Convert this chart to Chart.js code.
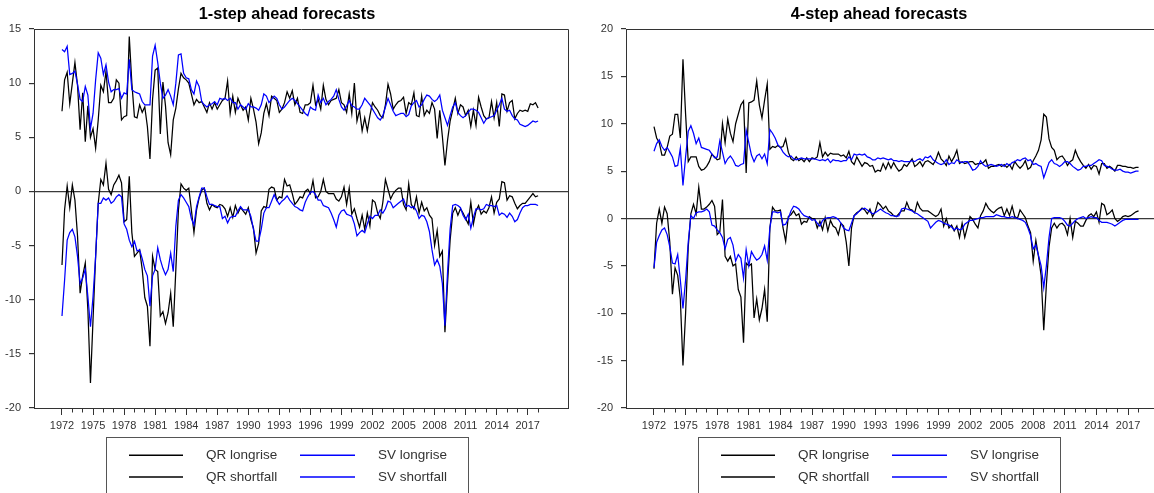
<!DOCTYPE html>
<html>
<head>
<meta charset="utf-8">
<script src="https://cdn.jsdelivr.net/npm/chart.js@4.4.1/dist/chart.umd.min.js"></script>
<style>
  html, body { margin: 0; padding: 0; background: #ffffff; overflow: hidden; width: 1154px; height: 493px; }
  #oneStep { position: absolute; left: 0; top: 0; }
  #fourStep { position: absolute; left: 592px; top: 0; }
</style>
</head>
<body>
<canvas id="oneStep" width="592" height="493"></canvas>
<canvas id="fourStep" width="601" height="493"></canvas>
<script>
// Quarterly forecasts, 1972Q1 .. 2018Q1
const startYear = 1972;
const labelYears = [1972, 1975, 1978, 1981, 1984, 1987, 1990, 1993, 1996, 1999, 2002, 2005, 2008, 2011, 2014, 2017];
const firstTickYear = 1972;
const lastTickYear = 2018;
const seriesNames = ['QR longrise', 'QR shortfall', 'SV longrise', 'SV shortfall'];
const seriesColors = ['#000000', '#000000', '#0000ff', '#0000ff'];
const panelTitles = ['1-step ahead forecasts', '4-step ahead forecasts'];

// ---- 1-step ahead ----
const oneStepQRLongrise = [
  7.4, 10.3, 11.0, 8.1,   10.0, 11.9, 9.8, 5.7,   9.1, 4.6, 7.9, 5.0,   5.8, 4.0, 6.6, 9.8,
  9.2, 11.1, 8.2, 8.2,    8.6, 10.3, 10.0, 6.6,   6.9, 7.0, 14.3, 10.0, 6.9, 6.8, 8.0, 7.3,
  7.8, 6.0, 3.0, 8.5,     11.2, 11.4, 5.3, 10.1,  7.9, 4.5, 3.4, 6.6,   7.7, 9.5, 10.9, 10.5,
  10.3, 10.0, 9.0, 8.0,   8.5, 8.2, 8.3, 7.8,     7.3, 8.2, 7.6, 8.2,   7.6, 8.0, 8.4, 8.6,
  10.2, 7.2, 8.8, 7.3,    8.6, 8.0, 7.5, 7.8,     6.6, 8.6, 7.6, 6.4,   4.4, 5.4, 7.2, 8.1,
  7.0, 8.8, 8.6, 8.4,     7.3, 7.6, 8.2, 9.2,     8.6, 9.3, 8.0, 8.6,   7.3, 7.2, 8.0, 8.0,
  8.2, 9.8, 8.0, 8.5,     7.6, 9.8, 8.5, 8.0,     8.4, 8.5, 8.6, 9.4,   8.2, 8.0, 7.3, 9.0,
  7.2, 10.0, 6.5, 7.5,    5.6, 6.8, 5.6, 7.0,     8.2, 7.8, 7.5, 7.0,   6.8, 8.0, 9.9, 9.0,
  7.6, 8.0, 8.3, 8.4,     8.7, 7.2, 8.2, 8.0,     9.1, 7.0, 6.9, 8.8,   7.0, 7.5, 7.2, 8.2,
  7.6, 4.9, 7.5, 5.1,     2.4, 4.7, 6.5, 7.5,     8.6, 7.2, 8.0, 7.8,   7.0, 7.5, 6.0, 7.5,
  6.1, 8.7, 7.8, 7.0,     6.7, 6.8, 8.3, 6.8,     8.2, 6.0, 9.0, 8.9,   7.4, 8.2, 8.4, 6.7,
  7.2, 7.5, 7.4, 7.5,     7.4, 8.1, 8.0, 8.2,     7.7
];
const oneStepQRShortfall = [
  -6.8, -1.7, 0.5, -1.5,   0.6, -0.8, -4.1, -9.4,   -7.8, -6.6, -10.9, -17.7, -11.8, -6.0, -1.1, 1.1,
  0.6, 2.6, 0.2, -0.3,     0.6, 1.0, 1.5, 0.8,      -2.8, -2.6, 1.4, -3.8,    -6.0, -5.7, -5.4, -7.2,
  -9.8, -10.6, -14.3, -6.0, -7.2, -7.4, -11.5, -11.1, -12.2, -11.2, -9.4, -12.5, -7.2, -1.7, 0.7, 0.3,
  0.1, 0.3, -1.7, -3.8,    -1.7, -0.6, 0.1, 0.3,    -1.1, -1.7, -1.2, -1.4,   -1.5, -1.2, -1.3, -1.6,
  -2.3, -1.5, -2.4, -1.3,  -2.0, -1.5, -1.8, -2.1,  -1.5, -2.6, -3.4, -5.7,   -4.8, -1.8, -1.4, -1.5,
  0.2, 0.4, 0.3, -0.8,     -0.5, -0.6, 1.1, 0.5,    0.6, -0.2, -1.2, -0.9,    -0.5, -0.6, 0.0, 0.2,
  -0.2, 1.0, -0.6, -0.5,   0.0, 1.1, 0.0, -0.2,     -0.2, -0.2, -0.7, -0.9,   -0.5, 0.4, -1.2, 0.3,
  -2.1, -1.6, -2.5, -3.3,  -2.2, -3.5, -2.0, -3.2,  -0.8, -1.0, -2.0, -2.5,   -1.0, 1.1, 0.2, -0.7,
  -0.2, 0.1, 0.3, 0.3,     -1.2, -1.7, 0.7, -1.2,   -1.6, -0.5, -2.0, -1.0,   -1.8, -1.5, -2.2, -2.5,
  -5.0, -3.6, -6.0, -5.5,  -13.0, -8.5, -4.5, -2.0, -1.5, -2.2, -1.6, -2.0,   -2.5, -3.0, -1.0, -3.0,
  -1.8, -1.3, -2.1, -1.8,  -2.0, -1.5, -0.5, -2.0,  -1.0, -0.7, 0.9, 0.8,     -0.8, -0.4, -0.5, -1.1,
  -1.6, -1.3, -1.1, -1.1,  -0.8, -0.5, -0.2, -0.5,  -0.4
];
const oneStepSVLongrise = [
  13.1, 12.9, 13.4, 10.8,  10.9, 11.1, 9.9, 8.5,   8.3, 9.7, 8.9, 5.8,    7.2, 10.3, 12.8, 12.3,
  10.8, 11.7, 10.1, 9.2,   9.4, 9.4, 9.5, 8.6,     9.1, 9.0, 12.2, 9.4,   9.2, 9.1, 9.0, 8.3,
  8.0, 8.0, 8.0, 12.5,     13.5, 11.9, 10.0, 8.6,  8.9, 9.4, 8.8, 8.0,    10.0, 12.6, 12.7, 10.9,
  10.5, 10.4, 9.4, 9.0,    10.2, 9.7, 8.3, 8.0,    7.8, 8.0, 8.1, 8.3,    8.0, 8.6, 8.5, 8.6,
  8.4, 8.6, 8.2, 8.2,      7.6, 8.0, 7.8, 7.6,     8.1, 7.8, 7.8, 7.7,    7.5, 8.0, 9.0, 8.8,
  8.2, 8.5, 8.8, 8.6,      8.0, 7.6, 7.8, 8.1,     8.4, 8.6, 8.4, 8.1,    7.8, 7.5, 7.2, 7.0,
  7.8, 7.6, 7.5, 8.9,      8.2, 8.6, 8.0, 8.3,     8.5, 8.8, 9.4, 8.5,    7.8, 7.5, 7.9, 8.4,
  7.9, 7.8, 7.6, 7.6,      8.0, 8.6, 8.3, 8.0,     7.6, 7.2, 6.8, 6.6,    7.0, 7.8, 8.6, 8.0,
  7.4, 7.0, 7.1, 7.2,      7.2, 6.9, 7.1, 7.9,     8.2, 8.4, 7.8, 8.0,    8.5, 8.9, 8.8, 8.5,
  8.3, 8.5, 8.9, 7.5,      6.8, 6.1, 7.0, 7.8,     8.2, 7.3, 7.0, 6.8,    7.0, 7.3, 7.6, 7.6,
  7.5, 7.3, 6.8, 6.3,      6.7, 6.8, 6.9, 7.0,     7.5, 8.0, 8.6, 7.6,    7.4, 7.5, 7.0, 6.7,
  6.6, 6.2, 6.1, 6.0,      6.1, 6.3, 6.5, 6.4,     6.5
];
const oneStepSVShortfall = [
  -11.5, -8.2, -4.5, -3.8, -3.5, -4.2, -6.0, -8.5,  -8.0, -7.2, -9.7, -12.5,  -9.7, -6.0, -1.1, -1.1,
  -0.6, -0.8, -0.6, -1.1,  -0.9, -0.5, -0.3, -0.5,  -3.0, -3.5, -4.5, -5.1,   -4.6, -5.5, -5.4, -6.2,
  -7.2, -7.8, -10.6, -7.8, -7.2, -5.2, -6.3, -7.1,  -7.7, -7.2, -5.7, -7.4,   -3.2, -0.8, -0.3, -0.6,
  -1.0, -1.4, -2.5, -3.1,  -1.4, -0.5, 0.3, 0.3,    -0.5, -1.2, -1.2, -1.3,   -1.4, -1.4, -2.5, -2.3,
  -2.9, -2.4, -2.3, -2.3,  -1.8, -1.4, -1.7, -1.7,  -1.7, -2.3, -3.5, -4.6,   -4.6, -3.5, -2.0, -1.5,
  -1.5, -0.9, -0.3, -0.8,  -1.2, -0.9, -0.7, -0.4,  -0.8, -1.1, -1.4, -1.5,   -1.7, -1.8, -1.0, -0.5,
  -0.1, 0.0, -0.3, -0.8,   -0.8, -1.3, -1.4, -1.5,  -2.0, -2.6, -3.3, -2.2,   -1.8, -1.7, -2.1, -2.2,
  -2.3, -3.0, -4.1, -3.8,  -3.6, -3.8, -3.0, -2.3,  -2.5, -2.2, -2.2, -1.7,   -2.0, -1.6, -0.9, -1.0,
  -1.5, -1.3, -1.1, -0.9,  -0.7, -1.4, -1.3, -1.5,  -1.4, -1.8, -2.5, -2.2,   -2.3, -2.8, -3.7, -5.4,
  -6.8, -6.3, -6.9, -8.5,  -12.4, -7.5, -3.5, -1.3, -1.2, -1.3, -1.5, -2.2,   -2.6, -2.1, -3.4, -2.4,
  -1.6, -1.6, -1.7, -1.6,  -1.2, -1.3, -1.3, -1.4,  -1.3, -2.2, -2.0, -2.1,   -2.4, -2.0, -2.3, -2.8,
  -2.6, -2.0, -1.5, -1.3,  -1.3, -1.2, -1.2, -1.2,  -1.3
];

// ---- 4-step ahead ----
const fourStepQRLongrise = [
  9.7, 8.5, 8.0, 6.7,     6.7, 7.5, 8.7, 8.9,     11.0, 11.0, 8.5, 16.8,  11.0, 6.0, 6.5, 6.5,
  6.5, 5.5, 5.1, 5.2,     5.5, 6.0, 6.8, 6.5,     6.2, 6.3, 10.0, 8.0,    10.5, 9.0, 8.1, 10.0,
  11.0, 12.0, 12.4, 4.8,  12.2, 12.3, 12.5, 14.5, 12.0, 10.6, 12.5, 14.2, 7.3, 7.6, 7.5, 7.7,
  7.5, 7.6, 8.4, 7.0,     6.3, 6.1, 6.5, 6.1,     6.3, 6.0, 6.4, 6.0,     6.4, 6.3, 6.5, 8.0,
  6.5, 7.0, 6.6, 6.9,     6.8, 6.8, 6.8, 6.6,     6.7, 6.4, 7.1, 6.0,     5.7, 6.5, 6.0, 5.5,
  5.9, 5.8, 5.5, 5.6,     4.9, 5.1, 5.0, 5.8,     5.2, 5.9, 5.3, 5.9,     5.4, 5.0, 5.2, 5.7,
  5.5, 5.9, 6.3, 5.5,     5.7, 6.0, 5.5, 6.0,     6.1, 5.9, 5.7, 6.2,     7.0, 6.3, 6.0, 5.6,
  6.6, 6.0, 6.5, 7.2,     5.8, 6.0, 5.8, 5.9,     6.0, 6.0, 5.7, 5.8,     5.8, 5.9, 6.2, 5.3,
  5.5, 5.5, 5.6, 5.7,     5.5, 5.7, 5.4, 5.7,     5.2, 6.0, 5.6, 5.3,     5.6, 6.1, 5.2, 5.4,
  6.1, 6.6, 7.2, 8.3,     11.0, 10.7, 8.4, 7.5,   7.2, 6.2, 6.5, 6.6,     6.2, 5.6, 6.0, 6.2,
  7.2, 6.5, 6.0, 5.6,     5.3, 5.7, 5.2, 5.6,     5.5, 4.7, 5.8, 5.8,     5.3, 5.5, 5.3, 5.0,
  5.6, 5.6, 5.5, 5.5,     5.4, 5.4, 5.3, 5.4,     5.4
];
const fourStepQRShortfall = [
  -5.3, -0.5, 1.0, -0.5,   1.2, 0.5, -2.5, -8.0,    -5.2, -6.0, -8.5, -15.5,  -10.0, -3.0, 0.5, 1.5,
  0.5, 3.3, 1.0, 1.0,      1.2, 1.5, 1.9, 1.3,      -1.7, -1.4, 2.0, -4.0,    -4.5, -4.0, -5.0, -4.8,
  -7.5, -8.3, -13.1, -4.7, -5.0, -4.8, -10.5, -8.5, -10.7, -9.5, -7.5, -10.9, -1.0, 1.2, 0.8, 0.8,
  0.9, -1.0, -2.4, 0.2,    0.4, 0.8, 0.3, 0.5,      -0.6, -0.3, -0.4, 0.2,    0.0, 0.0, -1.0, -0.3,
  -1.2, 0.1, -1.3, -0.2,   -0.8, -1.0, -1.7, -0.5,  -0.8, -2.5, -5.0, -1.0,   0.3, 0.6, 0.8, 1.1,
  0.9, 0.5, 1.0, 0.2,      0.7, 1.7, 1.4, 1.0,      1.3, 0.8, 0.6, 0.3,       0.2, 0.5, 0.8, 0.8,
  1.7, 1.0, 0.9, 0.6,      1.7, 1.1, 0.8, 0.8,      0.8, 0.6, 0.4, 0.2,       0.4, 1.0, -0.8, 0.0,
  -1.0, -0.7, -1.3, -0.8,  -2.0, -0.5, -2.0, -0.9,  0.2, -0.1, -0.6, -1.0,    0.3, 0.8, 1.6, 1.1,
  0.8, 0.6, 0.9, 1.1,      1.2, 0.3, 1.0, 0.3,      1.3, 0.2, 0.0, 0.9,       0.5, 0.1, -0.8, -1.5,
  -4.5, -2.3, -4.0, -6.0,  -11.8, -7.0, -3.0, -1.0, -0.5, -1.0, -0.6, -0.5,   -0.8, -1.7, 0.0, -2.0,
  -0.3, -0.5, -0.8, -0.8,  -0.2, 0.3, 0.5, 0.2,     0.7, -0.4, 1.6, 1.4,      0.4, 0.6, 0.9, 0.0,
  -0.3, -0.1, 0.2, 0.3,    0.2, 0.3, 0.5, 0.7,      0.8
];
const fourStepSVLongrise = [
  7.1, 7.9, 8.3, 7.6,     7.2, 7.5, 7.0, 6.5,     5.5, 5.6, 7.4, 3.5,     6.5, 9.2, 9.8, 9.0,
  7.9, 8.5, 7.5, 7.4,     7.3, 7.2, 6.8, 6.4,     6.5, 8.2, 7.0, 5.8,     6.3, 6.6, 6.2, 5.6,
  5.5, 5.7, 5.8, 9.3,     8.0, 6.7, 6.0, 6.6,     6.8, 6.3, 6.8, 5.8,     9.4, 9.0, 8.5, 7.8,
  7.5, 7.0, 6.7, 6.5,     6.6, 6.3, 6.2, 6.3,     6.4, 6.3, 6.3, 6.3,     6.3, 6.3, 6.2, 6.1,
  6.2, 6.1, 6.3, 5.9,     6.2, 6.1, 6.1, 6.0,     6.1, 6.1, 6.5, 6.2,     6.8, 6.7, 6.8, 6.7,
  6.8, 6.5, 6.4, 6.2,     6.2, 6.4, 6.3, 6.4,     6.3, 6.2, 6.3, 6.1,     6.1, 6.0, 6.1, 6.0,
  6.0, 6.0, 6.1, 6.0,     6.2, 6.3, 6.1, 6.5,     6.4, 6.6, 6.2, 6.0,     5.8, 5.7, 5.8, 6.2,
  5.7, 5.9, 5.8, 6.2,     6.0, 5.9, 6.0, 6.0,     5.6, 5.1, 5.2, 5.5,     6.1, 5.7, 5.5, 5.6,
  5.7, 5.6, 5.5, 5.6,     5.7, 5.5, 5.8, 5.6,     5.9, 6.0, 6.2, 6.1,     6.3, 6.4, 6.1, 6.2,
  5.7, 5.8, 5.6, 5.5,     4.3, 5.1, 5.9, 6.2,     5.8, 5.7, 5.5, 5.7,     6.0, 6.0, 5.8, 5.5,
  5.3, 5.1, 5.2, 5.5,     5.5, 5.6, 5.6, 5.8,     6.0, 6.2, 6.1, 5.6,     5.5, 5.4, 5.2, 5.1,
  5.1, 5.2, 5.0, 4.9,     4.9, 4.8, 4.9, 5.0,     5.0
];
const fourStepSVShortfall = [
  -5.2, -2.5, -1.8, -1.2,  -1.0, -1.7, -3.0, -4.7,  -4.8, -3.8, -6.5, -9.5,   -6.5, -2.5, 0.3, 0.0,
  0.6, 0.7, 0.7, 0.8,      1.0, 0.7, -0.7, -0.8,    -1.2, -1.5, -2.0, -3.2,   -2.2, -2.0, -2.8, -4.5,
  -3.8, -4.2, -6.3, -3.3,  -5.0, -3.5, -4.0, -4.4,  -4.2, -3.8, -2.9, -4.4,   -1.0, 0.7, 0.7, 0.6,
  0.7, -0.7, -0.6, 0.0,    0.8, 1.3, 1.2, 1.0,      0.6, 0.3, 0.2, 0.1,       -0.2, -0.1, -0.5, -0.8,
  -0.2, 0.0, 0.1, 0.1,     0.2, 0.1, -0.1, -0.5,    -1.0, -1.2, -1.3, -0.5,   0.3, 0.5, 0.8, 1.0,
  1.1, 0.9, 0.7, 0.5,      0.6, 0.8, 1.0, 0.8,      0.6, 0.5, 0.3, 0.3,       0.2, 0.3, 1.0, 1.1,
  1.0, 0.9, 0.8, 0.6,      0.5, 0.3, 0.1, -0.1,     -0.3, -1.0, -0.7, -0.4,   -0.2, -0.3, -0.5, -0.6,
  -0.7, -0.9, -1.2, -1.0,  -1.2, -1.1, -0.6, -0.4,  -0.2, -0.2, -0.1, 0.0,    0.1, 0.1, 0.2, 0.2,
  0.2, 0.2, 0.4, 0.3,      0.2, 0.2, 0.1, 0.1,      0.2, 0.1, 0.0, -0.1,      -0.2, -0.4, -1.0, -1.8,
  -3.2, -2.8, -3.9, -5.0,  -7.3, -5.0, -2.0, 0.0,   0.1, 0.1, 0.1, 0.0,       -0.3, -0.7, -0.8, -0.5,
  -0.2, 0.0, 0.1, 0.2,     0.0, 0.1, 0.2, 0.1,      0.1, -0.2, -0.4, -0.4,    -0.4, -0.5, -0.6, -0.8,
  -0.6, -0.4, -0.2, -0.1,  -0.1, -0.1, -0.1, -0.1,  -0.1
];

const FONT = "'Liberation Sans', Arial, Helvetica, sans-serif";
Chart.defaults.font.family = FONT;

function alignPx(v) { return Math.round(v - 0.5) + 0.5; }
function isLabelYear(v) { return labelYears.includes(v); }

// Box around the plotting region (top and right edges)
const frameBox = {
  id: 'frameBox',
  afterDatasetsDraw(chart) {
    const { ctx, chartArea: a } = chart;
    ctx.save();
    ctx.strokeStyle = '#333333';
    ctx.lineWidth = 1;
    ctx.beginPath();
    ctx.moveTo(alignPx(a.left), alignPx(a.top));
    ctx.lineTo(alignPx(a.right), alignPx(a.top));
    ctx.lineTo(alignPx(a.right), alignPx(a.bottom));
    ctx.stroke();
    ctx.restore();
  }
};

// Short ticks for the unlabelled years
const minorYearTicks = {
  id: 'minorYearTicks',
  afterDraw(chart) {
    const { ctx, chartArea: a, scales: { x } } = chart;
    ctx.save();
    ctx.strokeStyle = '#333333';
    ctx.lineWidth = 1;
    ctx.beginPath();
    for (let y = firstTickYear; y <= lastTickYear; y++) {
      if (isLabelYear(y)) continue;
      const px = alignPx(x.getPixelForValue(y));
      ctx.moveTo(px, a.bottom);
      ctx.lineTo(px, a.bottom + 4.5);
    }
    ctx.stroke();
    ctx.restore();
  }
};

const panelTitle = {
  id: 'panelTitle',
  afterDraw(chart, args, opts) {
    const { ctx } = chart;
    ctx.save();
    ctx.font = `bold 16.3px ${FONT}`;
    ctx.fillStyle = '#000000';
    ctx.textAlign = 'center';
    ctx.textBaseline = 'middle';
    ctx.fillText(opts.text, opts.x, opts.y);
    ctx.restore();
  }
};

// Boxed two-column legend below the plot
const boxLegend = {
  id: 'boxLegend',
  afterDraw(chart, args, opts) {
    const { ctx } = chart;
    const ds = chart.data.datasets;
    ctx.save();
    ctx.strokeStyle = '#555555';
    ctx.lineWidth = 1;
    ctx.strokeRect(opts.left + 0.5, opts.top + 0.5, opts.width, 80);
    ctx.font = `13.5px ${FONT}`;
    ctx.textBaseline = 'middle';
    ctx.textAlign = 'left';
    const cols = [
      { line0: 129, line1: 183, text: 206 },
      { line0: 300, line1: 355, text: 378 }
    ];
    const rows = [455.3, 477];
    ds.forEach((d, k) => {
      const col = cols[Math.floor(k / 2)];
      const y = rows[k % 2];
      ctx.beginPath();
      ctx.strokeStyle = seriesColors[k];
      ctx.lineWidth = 1.4;
      ctx.moveTo(col.line0, y);
      ctx.lineTo(col.line1, y);
      ctx.stroke();
      ctx.fillStyle = '#333333';
      ctx.fillText(d.label, col.text, y);
    });
    ctx.restore();
  }
};

function buildPanel(canvasId, title, series, yMax, xMin, xMax, plotRight, canvasWidth) {
  const datasets = series.map((values, k) => ({
    label: seriesNames[k],
    data: values.map((v, i) => ({ x: startYear + i / 4, y: v })),
    borderColor: seriesColors[k],
    borderWidth: 1.25,
    pointRadius: 0,
    pointHoverRadius: 0,
    tension: 0,
    fill: false,
    order: k < 2 ? 2 : 1
  }));
  return new Chart(document.getElementById(canvasId), {
    type: 'line',
    data: { datasets },
    options: {
      responsive: false,
      animation: false,
      devicePixelRatio: 1,
      events: [],
      layout: { padding: { top: 29, right: canvasWidth - plotRight, left: 0, bottom: 0 } },
      plugins: {
        legend: { display: false },
        tooltip: { enabled: false },
        panelTitle: { text: title, x: 287, y: 15 },
        boxLegend: { left: 106, top: 437, width: 362 }
      },
      scales: {
        x: {
          type: 'linear',
          min: xMin,
          max: xMax,
          afterBuildTicks(scale) {
            const t = [];
            for (let y = firstTickYear; y <= lastTickYear; y++) t.push({ value: y });
            scale.ticks = t;
          },
          afterFit(scale) { scale.height = 85; },
          ticks: {
            autoSkip: false,
            maxRotation: 0,
            minRotation: 0,
            padding: 4,
            color: '#333333',
            font: { size: 11 },
            callback: (v) => (isLabelYear(v) ? String(v) : '')
          },
          grid: {
            drawOnChartArea: false,
            drawTicks: true,
            tickLength: 7,
            tickWidth: 1,
            tickColor: (c) => (c.tick && isLabelYear(c.tick.value) ? '#333333' : 'rgba(0,0,0,0)')
          },
          border: { display: true, color: '#333333', width: 1 }
        },
        y: {
          type: 'linear',
          min: -20,
          max: yMax,
          afterFit(scale) { scale.width = 34; },
          ticks: {
            stepSize: 5,
            padding: 8,
            color: '#333333',
            font: { size: 11 }
          },
          grid: {
            drawOnChartArea: true,
            drawTicks: true,
            tickLength: 5,
            tickColor: '#333333',
            lineWidth: 1.2,
            color: (c) => (c.tick && c.tick.value === 0 ? '#3a3a3a' : 'rgba(0,0,0,0)')
          },
          border: { display: true, color: '#333333', width: 1 }
        }
      }
    },
    plugins: [frameBox, minorYearTicks, panelTitle, boxLegend]
  });
}

buildPanel('oneStep', panelTitles[0],
  [oneStepQRLongrise, oneStepQRShortfall, oneStepSVLongrise, oneStepSVShortfall],
  15, 1969.295, 2020.89, 568, 592);

buildPanel('fourStep', panelTitles[1],
  [fourStepQRLongrise, fourStepQRShortfall, fourStepSVLongrise, fourStepSVShortfall],
  20, 1969.342, 2020.89, 577, 601);
</script>
</body>
</html>
